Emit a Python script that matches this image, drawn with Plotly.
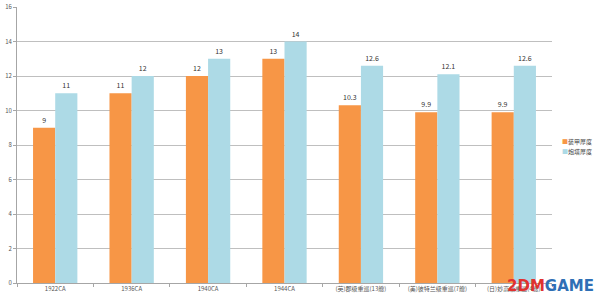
import plotly.graph_objects as go

categories = ["1922CA", "1936CA", "1940CA", "1944CA",
              "(英)郡级重巡(13艘)", "(美)彼特兰级重巡(7艘)", "(日)妙高级重巡(4艘)"]
series_a_name = "装甲厚度"
series_b_name = "炮塔厚度"
series_a = [9, 11, 12, 13, 10.3, 9.9, 9.9]
series_b = [11, 12, 13, 14, 12.6, 12.1, 12.6]
y_ticks = [0, 2, 4, 6, 8, 10, 12, 14, 16]

font_family = "Noto Sans CJK SC, Noto Sans, sans-serif"
color_a = "#F79646"
color_b = "#ADDAE6"

fig = go.Figure()
fig.add_trace(go.Bar(
    x=categories, y=series_a, name=series_a_name,
    marker=dict(color=color_a, line=dict(width=0)),
    text=[str(v) for v in series_a], textposition="outside",
    textfont=dict(size=7, color="#333333"), cliponaxis=False,
))
fig.add_trace(go.Bar(
    x=categories, y=series_b, name=series_b_name,
    marker=dict(color=color_b, line=dict(width=0)),
    text=[str(v) for v in series_b], textposition="outside",
    textfont=dict(size=7, color="#333333"), cliponaxis=False,
))

fig.update_layout(
    width=600, height=300,
    margin=dict(l=17, r=48, t=7, b=17, autoexpand=False),
    paper_bgcolor="white", plot_bgcolor="white",
    font=dict(family=font_family, size=7, color="#444444"),
    barmode="group", bargap=0.42, bargroupgap=0,
    showlegend=False,
    uniformtext=dict(minsize=6, mode="show"),
)
fig.update_yaxes(
    range=[0, 16], tickvals=y_ticks, ticktext=[str(v) for v in y_ticks],
    showgrid=True, gridcolor="#BFBFBF", gridwidth=1,
    showline=True, linecolor="#A6A6A6", linewidth=1,
    ticks="outside", ticklen=3, tickcolor="#A6A6A6",
    tickfont=dict(size=6, color="#555555"), zeroline=False,
)
fig.update_xaxes(
    showline=True, linecolor="#A6A6A6", linewidth=1,
    ticks="outside", tickson="boundaries", ticklen=3, tickcolor="#A6A6A6",
    tickfont=dict(size=6, color="#555555"), tickangle=0,
)

# compact legend drawn as annotations (Plotly's legend symbol area is too wide)
for name, col, ypos in [(series_a_name, color_a, 0.511), (series_b_name, color_b, 0.478)]:
    fig.add_annotation(
        x=1.015, y=ypos, xref="paper", yref="paper", xanchor="left", yanchor="middle",
        text=f"<span style='color:{col}'>■</span>{name}", showarrow=False,
        font=dict(size=6, color="#444444", family=font_family),
    )

fig.add_annotation(
    x=1.0, y=0.0, xref="paper", yref="paper", xanchor="right", yanchor="bottom",
    yshift=-14, xshift=44,
    text="<b><span style='color:#E0322E'>2DM</span><span style='color:#2F6FB5'>GAME</span></b>",
    showarrow=False, font=dict(size=15, family="DejaVu Sans"),
)

fig.write_html("out.html")
